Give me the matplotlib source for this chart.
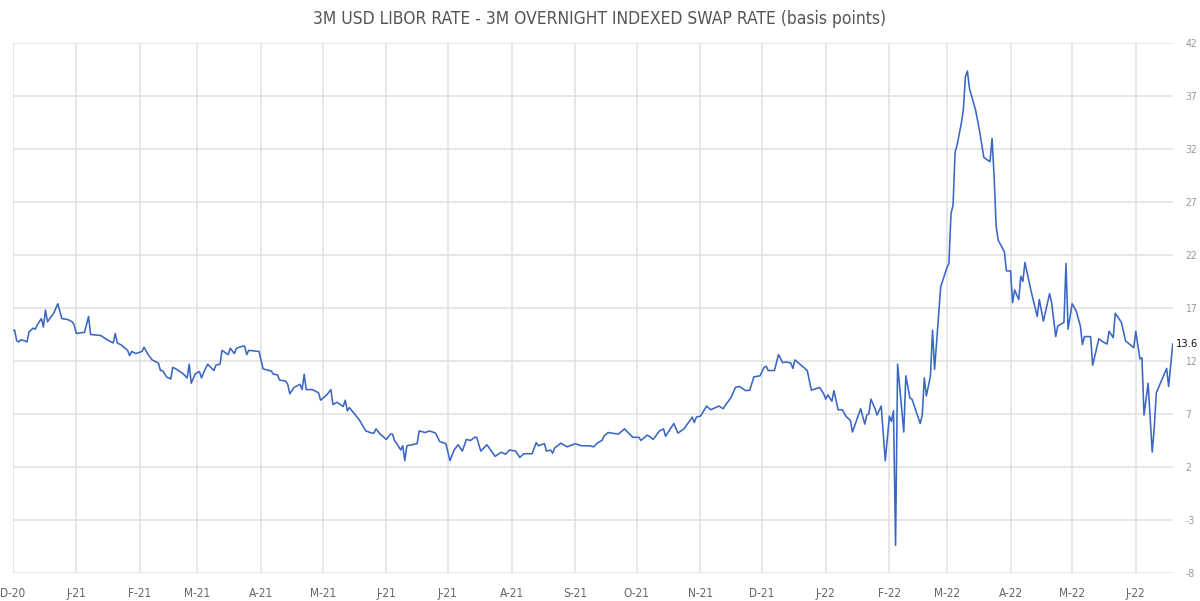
import matplotlib
matplotlib.use("Agg")
import matplotlib.pyplot as plt
import pandas as pd

title = "3M USD LIBOR RATE - 3M OVERNIGHT INDEXED SWAP RATE (basis points)"
start_date = "2020-12-01"
end_date = "2022-06-18"

days_since_start = [
    0, 1, 2, 3, 4, 6, 7, 8, 10, 11, 12, 14, 15, 16, 17, 20, 22, 24, 27, 29,
    30, 31, 35, 37, 38, 43, 46, 49, 50, 51, 53, 56, 57, 58, 60, 63, 64, 66, 68, 71,
    72, 73, 75, 77, 78, 80, 83, 85, 86, 87, 89, 91, 92, 93, 95, 98, 99, 101, 102, 105,
    106, 108, 109, 112, 113, 114, 115, 120, 122, 124, 126, 127, 129, 130, 133, 134, 135, 137, 140, 141,
    142, 143, 146, 149, 150, 153, 155, 156, 158, 161, 162, 163, 164, 167, 169, 172, 175, 176, 177, 179,
    182, 184, 185, 186, 187, 189, 190, 191, 192, 197, 198, 201, 203, 206, 208, 211, 213, 215, 217, 219,
    221, 223, 225, 226, 228, 231, 235, 238, 240, 242, 245, 247, 249, 253, 255, 256, 259, 260, 262, 263,
    264, 267, 270, 274, 277, 281, 283, 285, 287, 288, 290, 295, 298, 302, 305, 306, 309, 310, 312, 315,
    317, 318, 322, 324, 327, 331, 332, 333, 335, 338, 340, 344, 346, 350, 352, 354, 357, 359, 361, 364,
    366, 367, 368, 371, 373, 375, 377, 379, 380, 381, 384, 387, 389, 393, 395, 396, 397, 399, 400, 402,
    404, 406, 408, 409, 413, 415, 416, 417, 418, 420, 421, 423, 425, 427, 428, 429, 430, 431, 434, 435,
    437, 438, 442, 443, 444, 445, 447, 448, 449,
    452, 455, 456, 457, 458, 459, 460, 462, 463, 464, 465, 466, 469, 471, 473, 476, 477, 478, 479, 480,
    483, 484, 486, 487, 488, 490, 491, 492, 493, 496, 499, 500, 502, 505, 506, 508, 509, 512, 513, 514,
    516, 518, 520, 521, 522, 525,
    526, 529, 531, 533, 534, 536, 537, 540, 542, 546, 547, 549, 550, 551, 553, 555, 556, 557, 562, 563, 565,
]

spread_bp = [
    14.9, 14.9, 13.9, 13.8, 14.0, 13.9, 13.8, 14.75, 15.1, 15.0, 15.4, 16.0, 15.2, 16.8, 15.7, 16.5, 17.4, 16.0, 15.9, 15.7,
    15.4, 14.6, 14.7, 16.2, 14.5, 14.4, 14.0, 13.7, 14.6, 13.7, 13.5, 13.0, 12.5, 12.9, 12.7, 12.9, 13.3, 12.6, 12.1, 11.8,
    11.1, 11.1, 10.5, 10.3, 11.4, 11.2, 10.8, 10.4, 11.7, 9.9, 10.8, 11.0, 10.4, 10.9, 11.7, 11.1, 11.6, 11.7, 13.0, 12.6,
    13.2, 12.7, 13.2, 13.4, 13.4, 12.6, 13.0, 12.9, 11.25, 11.15, 11.05, 10.75, 10.7, 10.2, 10.1, 9.8, 8.9, 9.5, 9.8, 9.3,
    10.75, 9.3, 9.3, 9.0, 8.3, 8.8, 9.3, 7.9, 8.1, 7.7, 8.3, 7.3, 7.6, 6.9, 6.4, 5.4, 5.2, 5.2, 5.6, 5.1,
    4.6, 5.1, 5.1, 4.5, 4.25, 3.6, 4.0, 2.6, 4.0, 4.2, 5.4, 5.25, 5.4, 5.2, 4.4, 4.2, 2.6, 3.6, 4.1, 3.5,
    4.6, 4.5, 4.8, 4.8, 3.5, 4.1, 3.0, 3.4, 3.2, 3.6, 3.5, 2.9, 3.25, 3.25, 4.3, 4.0, 4.2, 3.5, 3.6, 3.3,
    3.8, 4.25, 3.9, 4.2, 4.0, 4.0, 3.9, 4.3, 4.5, 4.9, 5.25, 5.1, 5.6, 4.8, 4.8, 4.5, 5.0, 4.9, 4.6, 5.4,
    5.6, 4.9, 6.1, 5.2, 5.6, 6.7, 6.2, 6.7, 6.8, 7.75, 7.4, 7.75, 7.5, 8.6, 9.5, 9.6, 9.2, 9.25, 10.5, 10.6,
    11.4, 11.5, 11.1, 11.1, 12.6, 11.85, 11.9, 11.8, 11.3, 12.1, 11.6, 11.1, 9.25, 9.5, 8.9, 8.4, 8.8, 8.2, 9.2, 7.4,
    7.4, 6.75, 6.4, 5.3, 7.5, 6.05, 6.9, 7.0, 8.4, 7.5, 6.9, 7.75, 2.6, 6.8, 6.3, 7.3, -5.4, 11.7, 5.3, 10.6,
    8.5, 8.4, 6.1, 6.9, 10.4, 8.7, 10.6, 14.9, 11.2,
    19.0, 20.8, 21.2, 25.9, 26.7, 31.7, 32.4, 34.4, 35.65, 38.8, 39.35, 37.7, 35.65, 33.6, 31.2, 30.8, 33.0, 29.4, 24.7, 23.4,
    22.3, 20.5, 20.5, 17.5, 18.7, 17.8, 20.0, 19.5, 21.3, 18.6, 16.2, 17.8, 15.75, 18.35, 17.5, 14.3, 15.3, 15.65, 21.2, 15.0,
    17.4, 16.7, 15.3, 13.55, 14.3, 14.3,
    11.6, 14.1, 13.8, 13.6, 14.8, 14.2, 16.5, 15.65, 13.9, 13.25, 14.8, 12.2, 12.3, 6.9, 9.9, 3.4, 5.75, 9.0, 11.3, 9.6, 13.6,
]

y_ticks = [-8, -3, 2, 7, 12, 17, 22, 27, 32, 37, 42]
last_label = "13.6"

dates = pd.Timestamp(start_date) + pd.to_timedelta(days_since_start, unit="D")

plt.rcParams['font.family'] = ['DejaVu Sans']
plt.rcParams['axes.unicode_minus'] = False
fig = plt.figure(figsize=(12.0, 6.01), dpi=100)
ax = fig.add_axes([0.0105, 0.0466, 0.9668, 0.8819])

ax.plot(dates, spread_bp, color="#3a66c4", linewidth=1.15)

ax.set_ylim(-8, 42)
ax.set_xlim(pd.Timestamp(start_date), dates[-1])
ax.set_yticks(y_ticks)
ax.set_yticklabels([str(v) for v in y_ticks])
ax.yaxis.tick_right()

month_ticks = pd.date_range(start_date, end_date, freq="MS")
ax.set_xticks(month_ticks)
ax.set_xticklabels([d.strftime("%b")[0] + "-" + d.strftime("%y") for d in month_ticks])

ax.grid(True, color="#e0e0e0", linewidth=1.1)
ax.set_axisbelow(True)
for s in ax.spines.values():
    s.set_visible(False)

ax.tick_params(axis="x", length=0, pad=10, labelsize=8.5, labelcolor="#666666")
ax.tick_params(axis="y", length=0, pad=9, labelsize=7.5, labelcolor="#999999")
for lab in ax.get_xticklabels() + ax.get_yticklabels():
    lab.set_fontstretch("condensed")

ax.annotate(last_label, xy=(dates[-1], spread_bp[-1]), xytext=(2.5, 0),
            textcoords="offset points", ha="left", va="center",
            fontsize=8, color="#111111", fontstretch="condensed", annotation_clip=False)

fig.text(0.5, 0.968, title, ha="center", va="center", fontsize=12.5,
         color="#555555", fontstretch="condensed")

fig.savefig("out.png", dpi=100, facecolor="white")
